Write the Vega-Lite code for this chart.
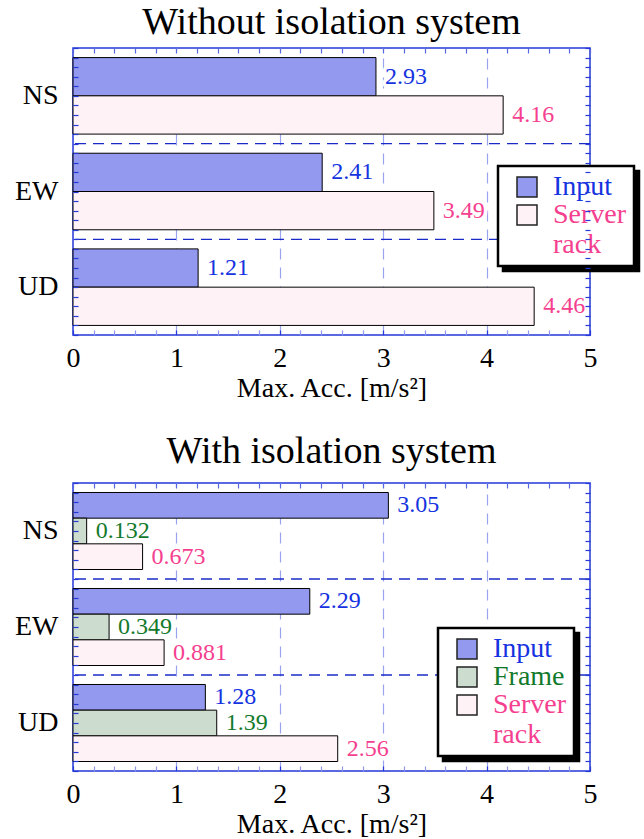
{
  "$schema": "https://vega.github.io/schema/vega-lite/v6.json",
  "background": "white",
  "padding": {"left": 5, "top": 3, "right": 2, "bottom": 0},
  "spacing": 29,
  "datasets": {
    "top": [
      {"dir": "NS", "series": "Input", "value": 2.93},
      {"dir": "NS", "series": "Server rack", "value": 4.16},
      {"dir": "EW", "series": "Input", "value": 2.41},
      {"dir": "EW", "series": "Server rack", "value": 3.49},
      {"dir": "UD", "series": "Input", "value": 1.21},
      {"dir": "UD", "series": "Server rack", "value": 4.46}
    ],
    "bottom": [
      {"dir": "NS", "series": "Input", "value": 3.05},
      {"dir": "NS", "series": "Frame", "value": 0.132},
      {"dir": "NS", "series": "Server rack", "value": 0.673},
      {"dir": "EW", "series": "Input", "value": 2.29},
      {"dir": "EW", "series": "Frame", "value": 0.349},
      {"dir": "EW", "series": "Server rack", "value": 0.881},
      {"dir": "UD", "series": "Input", "value": 1.28},
      {"dir": "UD", "series": "Frame", "value": 1.39},
      {"dir": "UD", "series": "Server rack", "value": 2.56}
    ],
    "seps": [{"dir": "EW"}, {"dir": "UD"}]
  },
  "resolve": {"scale": {"fill": "independent", "color": "independent", "yOffset": "independent"}},
  "vconcat": [
    {
      "title": {"text": "Without isolation system", "offset": 5},
      "width": 517,
      "height": 287,
      "resolve": {"scale": {"y": "independent"}},
      "layer": [
        {
          "data": {"values": [{}]},
          "mark": {"type": "point", "opacity": 0},
          "encoding": {
            "x": {"datum": 0, "type": "quantitative", "scale": {"domain": [0, 5], "nice": false},
              "axis": {"orient": "top", "values": [0,0.2,0.4,0.6,0.8,1,1.2,1.4,1.6,1.8,2,2.2,2.4,2.6,2.8,3,3.2,3.4,3.6,3.8,4,4.2,4.4,4.6,4.8,5], "tickCount": 200,
                "labels": false, "title": null, "domain": false, "tickSize": -5, "tickWidth": 1.2, "grid": false,
                "tickColor": "#5866E0", "minExtent": 0, "maxExtent": 0}},
            "y": {"datum": 0, "type": "quantitative", "scale": {"domain": [0, 30], "nice": false},
              "axis": {"orient": "left", "values": [0,1,2,3,4,5,6,7,8,9,10,11,12,13,14,15,16,17,18,19,20,21,22,23,24,25,26,27,28,29,30], "tickCount": 200,
                "labels": false, "title": null, "domain": false, "grid": false, "tickSize": -5, "tickWidth": 1.2,
                "tickColor": "#2538D8", "minExtent": 0, "maxExtent": 0, "zindex": 1}}
          }
        },
        {
          "data": {"values": [{}]},
          "mark": {"type": "point", "opacity": 0},
          "encoding": {
            "y": {"datum": 0, "type": "quantitative", "scale": {"domain": [0, 30], "nice": false},
              "axis": {"orient": "right", "values": [0,1,2,3,4,5,6,7,8,9,10,11,12,13,14,15,16,17,18,19,20,21,22,23,24,25,26,27,28,29,30], "tickCount": 200,
                "labels": false, "title": null, "domain": false, "grid": false, "tickSize": -5, "tickWidth": 1.2,
                "tickColor": "#2538D8", "minExtent": 0, "maxExtent": 0, "zindex": 1}}
          }
        },
        {
          "layer": [
            {
              "data": {"name": "top"},
              "mark": {"type": "text", "align": "left", "baseline": "middle", "dx": 9, "fontSize": 24, "fill": "white", "stroke": "white", "strokeWidth": 7, "strokeJoin": "round"},
              "encoding": {
                "y": {"field": "dir", "type": "nominal"},
                "yOffset": {"field": "series", "type": "nominal"},
                "x": {"field": "value", "type": "quantitative"},
                "text": {"field": "value", "type": "quantitative"}
              }
            },
            {
              "data": {"name": "top"},
              "mark": {"type": "text", "align": "left", "baseline": "middle", "dx": 9, "fontSize": 24},
              "encoding": {
                "y": {"field": "dir", "type": "nominal"},
                "yOffset": {"field": "series", "type": "nominal"},
                "x": {"field": "value", "type": "quantitative"},
                "text": {"field": "value", "type": "quantitative"},
                "color": {"field": "series", "type": "nominal",
                  "scale": {"domain": ["Server rack", "Input"], "range": ["#F5408F", "#1533E0"]},
                  "legend": {"orient": "none", "legendX": 430, "legendY": 123, "title": null,
                    "symbolType": "square", "symbolSize": 400, "symbolStrokeWidth": 1.5,
                    "labelFontSize": 28, "labelOffset": 12, "labelLimit": 300, "padding": 7, "rowPadding": 0, "symbolOffset": 8,
                    "labelExpr": "datum.label == 'Server rack' ? ['Server', 'rack'] : datum.label",
                    "encode": {
                      "labels": {"update": {"fill": {"value": "black"}}},
                      "legend": {"update": {"stroke": {"value": "black"}, "strokeWidth": {"value": 2.5}, "fill": {"value": "black"}}}
                    }}}
              }
            },
            {
              "data": {"name": "top"},
              "mark": {"type": "bar", "stroke": "black", "strokeWidth": 1},
              "encoding": {
                "y": {"field": "dir", "type": "nominal", "scale": {"domain": ["NS", "EW", "UD"], "paddingInner": 0, "paddingOuter": 0},
                  "axis": {"orient": "left", "title": null, "ticks": false, "domain": false, "labelFontSize": 28, "labelPadding": 15, "labelAngle": 0, "minExtent": 67}},
                "yOffset": {"field": "series", "type": "nominal", "scale": {"domain": ["Input", "Server rack"], "paddingInner": 0, "paddingOuter": 0.25}},
                "x": {"field": "value", "type": "quantitative", "scale": {"domain": [0, 5], "nice": false},
                  "axis": {"orient": "bottom", "values": [0,0.2,0.4,0.6,0.8,1,1.2,1.4,1.6,1.8,2,2.2,2.4,2.6,2.8,3,3.2,3.4,3.6,3.8,4,4.2,4.4,4.6,4.8,5], "tickCount": 200,
                    "labelExpr": "datum.value % 1 === 0 ? format(datum.value, 'd') : ''", "labelFlush": false, "labelOverlap": false,
                    "labelFontSize": 28, "labelPadding": 14, "domain": false, "tickSize": -5, "tickWidth": 1.2,
                    "tickColor": {"condition": {"test": "datum.value % 1 === 0", "value": "#2538D8"}, "value": "#8C96EC"},
                    "grid": true, "gridColor": "#9AA3F0", "gridDash": [11, 8], "gridWidth": 1.2,
                    "gridOpacity": {"condition": {"test": "datum.value % 1 === 0 && datum.value > 0 && datum.value < 5", "value": 1}, "value": 0},
                    "title": "Max. Acc. [m/s²]", "titleFontSize": 28, "titlePadding": 2}},
                "fill": {"field": "series", "type": "nominal",
                  "scale": {"domain": ["Input", "Server rack"], "range": ["#9399EE", "#FFF2F7"]},
                  "legend": {"orient": "none", "legendX": 425, "legendY": 118, "title": null,
                    "symbolType": "square", "symbolSize": 400, "symbolStrokeColor": "#222222", "symbolStrokeWidth": 1.5,
                    "labelFontSize": 28, "labelOffset": 12, "labelLimit": 300, "padding": 7, "rowPadding": 0, "symbolOffset": 8,
                    "labelExpr": "datum.label == 'Server rack' ? ['Server', 'rack'] : datum.label",
                    "encode": {
                      "labels": {"update": {"fill": {"signal": "datum.value === 'Input' ? '#1533E0' : datum.value === 'Frame' ? '#137A2C' : '#F5408F'"}}},
                      "legend": {"update": {"stroke": {"value": "black"}, "strokeWidth": {"value": 2.5}, "fill": {"value": "white"}}}
                    }}}
              }
            },
            {
              "data": {"name": "seps"},
              "mark": {"type": "rule", "color": "#1A2BC8", "strokeWidth": 1.3, "strokeDash": [11, 7]},
              "encoding": {
                "y": {"field": "dir", "type": "nominal", "bandPosition": 0}
              }
            }
          ]
        }
      ]
    },
    {
      "title": {"text": "With isolation system", "offset": 11},
      "width": 517,
      "height": 288,
      "resolve": {"scale": {"y": "independent"}},
      "layer": [
        {
          "data": {"values": [{}]},
          "mark": {"type": "point", "opacity": 0},
          "encoding": {
            "x": {"datum": 0, "type": "quantitative", "scale": {"domain": [0, 5], "nice": false},
              "axis": {"orient": "top", "values": [0,0.2,0.4,0.6,0.8,1,1.2,1.4,1.6,1.8,2,2.2,2.4,2.6,2.8,3,3.2,3.4,3.6,3.8,4,4.2,4.4,4.6,4.8,5], "tickCount": 200,
                "labels": false, "title": null, "domain": false, "tickSize": -5, "tickWidth": 1.2, "grid": false,
                "tickColor": "#5866E0", "minExtent": 0, "maxExtent": 0}},
            "y": {"datum": 0, "type": "quantitative", "scale": {"domain": [0, 30], "nice": false},
              "axis": {"orient": "left", "values": [0,1,2,3,4,5,6,7,8,9,10,11,12,13,14,15,16,17,18,19,20,21,22,23,24,25,26,27,28,29,30], "tickCount": 200,
                "labels": false, "title": null, "domain": false, "grid": false, "tickSize": -5, "tickWidth": 1.2,
                "tickColor": "#2538D8", "minExtent": 0, "maxExtent": 0, "zindex": 1}}
          }
        },
        {
          "data": {"values": [{}]},
          "mark": {"type": "point", "opacity": 0},
          "encoding": {
            "y": {"datum": 0, "type": "quantitative", "scale": {"domain": [0, 30], "nice": false},
              "axis": {"orient": "right", "values": [0,1,2,3,4,5,6,7,8,9,10,11,12,13,14,15,16,17,18,19,20,21,22,23,24,25,26,27,28,29,30], "tickCount": 200,
                "labels": false, "title": null, "domain": false, "grid": false, "tickSize": -5, "tickWidth": 1.2,
                "tickColor": "#2538D8", "minExtent": 0, "maxExtent": 0, "zindex": 1}}
          }
        },
        {
          "layer": [
            {
              "data": {"name": "bottom"},
              "mark": {"type": "text", "align": "left", "baseline": "middle", "dx": 9, "fontSize": 24, "fill": "white", "stroke": "white", "strokeWidth": 7, "strokeJoin": "round"},
              "encoding": {
                "y": {"field": "dir", "type": "nominal"},
                "yOffset": {"field": "series", "type": "nominal"},
                "x": {"field": "value", "type": "quantitative"},
                "text": {"field": "value", "type": "quantitative"}
              }
            },
            {
              "data": {"name": "bottom"},
              "mark": {"type": "text", "align": "left", "baseline": "middle", "dx": 9, "fontSize": 24},
              "encoding": {
                "y": {"field": "dir", "type": "nominal"},
                "yOffset": {"field": "series", "type": "nominal"},
                "x": {"field": "value", "type": "quantitative"},
                "text": {"field": "value", "type": "quantitative"},
                "color": {"field": "series", "type": "nominal",
                  "scale": {"domain": ["Server rack", "Frame", "Input"], "range": ["#F5408F", "#137A2C", "#1533E0"]},
                  "legend": {"orient": "none", "legendX": 370, "legendY": 150, "title": null,
                    "symbolType": "square", "symbolSize": 400, "symbolStrokeWidth": 1.5,
                    "labelFontSize": 28, "labelOffset": 12, "labelLimit": 300, "padding": 7, "rowPadding": 0, "symbolOffset": 8,
                    "labelExpr": "datum.label == 'Server rack' ? ['Server', 'rack'] : datum.label",
                    "encode": {
                      "labels": {"update": {"fill": {"value": "black"}}},
                      "legend": {"update": {"stroke": {"value": "black"}, "strokeWidth": {"value": 2.5}, "fill": {"value": "black"}}}
                    }}}
              }
            },
            {
              "data": {"name": "bottom"},
              "mark": {"type": "bar", "stroke": "black", "strokeWidth": 1},
              "encoding": {
                "y": {"field": "dir", "type": "nominal", "scale": {"domain": ["NS", "EW", "UD"], "paddingInner": 0, "paddingOuter": 0},
                  "axis": {"orient": "left", "title": null, "ticks": false, "domain": false, "labelFontSize": 28, "labelPadding": 15, "labelAngle": 0, "minExtent": 67}},
                "yOffset": {"field": "series", "type": "nominal", "scale": {"domain": ["Input", "Frame", "Server rack"], "paddingInner": 0, "paddingOuter": 0.37}},
                "x": {"field": "value", "type": "quantitative", "scale": {"domain": [0, 5], "nice": false},
                  "axis": {"orient": "bottom", "values": [0,0.2,0.4,0.6,0.8,1,1.2,1.4,1.6,1.8,2,2.2,2.4,2.6,2.8,3,3.2,3.4,3.6,3.8,4,4.2,4.4,4.6,4.8,5], "tickCount": 200,
                    "labelExpr": "datum.value % 1 === 0 ? format(datum.value, 'd') : ''", "labelFlush": false, "labelOverlap": false,
                    "labelFontSize": 28, "labelPadding": 14, "domain": false, "tickSize": -5, "tickWidth": 1.2,
                    "tickColor": {"condition": {"test": "datum.value % 1 === 0", "value": "#2538D8"}, "value": "#8C96EC"},
                    "grid": true, "gridColor": "#9AA3F0", "gridDash": [11, 8], "gridWidth": 1.2,
                    "gridOpacity": {"condition": {"test": "datum.value % 1 === 0 && datum.value > 0 && datum.value < 5", "value": 1}, "value": 0},
                    "title": "Max. Acc. [m/s²]", "titleFontSize": 28, "titlePadding": 2}},
                "fill": {"field": "series", "type": "nominal",
                  "scale": {"domain": ["Input", "Frame", "Server rack"], "range": ["#9399EE", "#CCDDD0", "#FFF2F7"]},
                  "legend": {"orient": "none", "legendX": 365, "legendY": 145, "title": null,
                    "symbolType": "square", "symbolSize": 400, "symbolStrokeColor": "#222222", "symbolStrokeWidth": 1.5,
                    "labelFontSize": 28, "labelOffset": 12, "labelLimit": 300, "padding": 7, "rowPadding": 0, "symbolOffset": 8,
                    "labelExpr": "datum.label == 'Server rack' ? ['Server', 'rack'] : datum.label",
                    "encode": {
                      "labels": {"update": {"fill": {"signal": "datum.value === 'Input' ? '#1533E0' : datum.value === 'Frame' ? '#137A2C' : '#F5408F'"}}},
                      "legend": {"update": {"stroke": {"value": "black"}, "strokeWidth": {"value": 2.5}, "fill": {"value": "white"}}}
                    }}}
              }
            },
            {
              "data": {"name": "seps"},
              "mark": {"type": "rule", "color": "#1A2BC8", "strokeWidth": 1.3, "strokeDash": [11, 7]},
              "encoding": {
                "y": {"field": "dir", "type": "nominal", "bandPosition": 0}
              }
            }
          ]
        }
      ]
    }
  ],
  "config": {
    "font": "Liberation Serif",
    "view": {"stroke": "#2538D8", "strokeWidth": 1.5},
    "title": {"font": "Liberation Serif", "fontSize": 38, "fontWeight": "normal", "color": "black"},
    "axis": {"labelFont": "Liberation Serif", "titleFont": "Liberation Serif", "labelColor": "black", "titleColor": "black", "titleFontWeight": "normal"},
    "legend": {"labelFont": "Liberation Serif"},
    "text": {"font": "Liberation Serif"}
  }
}
